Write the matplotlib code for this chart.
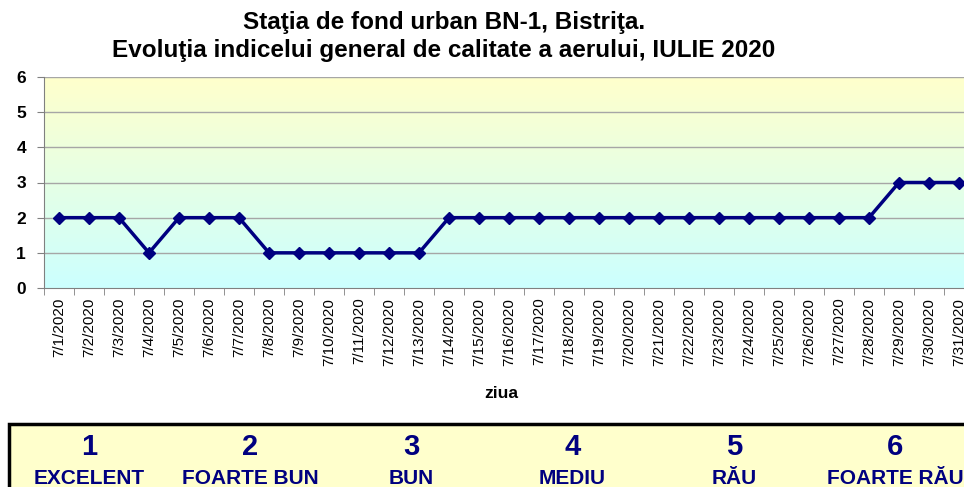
import matplotlib.pyplot as plt
import numpy as np
from matplotlib.colors import LinearSegmentedColormap
from matplotlib.patches import Rectangle

plt.rcParams["font.family"] = ["Liberation Sans", "DejaVu Sans"]

W, H = 964, 487

days = [f"7/{d}/2020" for d in range(1, 32)]
index_values = [2, 2, 2, 1, 2, 2, 2, 1, 1, 1, 1, 1, 1,
                2, 2, 2, 2, 2, 2, 2, 2, 2, 2, 2, 2, 2, 2, 2,
                3, 3, 3]
scale_numbers = ["1", "2", "3", "4", "5", "6"]
scale_labels = ["EXCELENT", "FOARTE BUN", "BUN", "MEDIU", "RĂU", "FOARTE RĂU"]

NAVY = "#000080"

fig = plt.figure(figsize=(W / 100, H / 100), dpi=100)

# plot area (in pixels, converted to figure fractions); right side runs past the image
left, top, bottom, right = 44, 77, 288, 974
ax = fig.add_axes([left / W, 1 - bottom / H, (right - left) / W, (bottom - top) / H])

x = np.arange(len(days))
ax.set_xlim(-0.5, len(days) - 0.5)
ax.set_ylim(0, 6)

grad = LinearSegmentedColormap.from_list("bg", ["#CCFFFF", "#FFFFCC"])
ax.imshow(np.linspace(0, 1, 256).reshape(-1, 1), cmap=grad, aspect="auto",
          extent=(-0.5, len(days) - 0.5, 0, 6), origin="lower", zorder=0)

for yv in range(1, 7):
    ax.axhline(yv, color="#A6A6A6", lw=1.0, zorder=1)

ax.plot(x, index_values, color=NAVY, lw=2.5, marker="D", markersize=6,
        zorder=3, clip_on=False)

ax.set_xticks(x)
ax.set_xticklabels(days, rotation=90, fontsize=11)
ax.tick_params(axis="x", length=0, pad=7)
ax.set_xticks(np.arange(-0.5, len(days)), minor=True)
ax.tick_params(axis="x", which="minor", length=5, color="#808080")
ax.set_yticks(range(0, 7))
ax.set_yticklabels([str(v) for v in range(0, 7)], fontsize=12.5, fontweight="bold")
ax.tick_params(axis="y", length=5, color="#808080", pad=8)

for side in ["top", "right"]:
    ax.spines[side].set_visible(False)
for side in ["left", "bottom"]:
    ax.spines[side].set_color("#808080")

fig.text(444 / W, 1 - 22 / H, "Staţia de fond urban BN-1, Bistriţa.",
         ha="center", va="center", fontsize=17.5, fontweight="bold")
fig.text(444 / W, 1 - 50 / H, "Evoluţia indicelui general de calitate a aerului, IULIE 2020",
         ha="center", va="center", fontsize=17.5, fontweight="bold")
fig.text(501 / W, 1 - 393 / H, "ziua", ha="center", va="center",
         fontsize=12.5, fontweight="bold")

# legend box with the index scale
fig.patches.append(Rectangle((9 / W, -0.1), 1.1, 0.1 + (H - 424) / H,
                             transform=fig.transFigure, facecolor="#FFFFCC",
                             edgecolor="black", lw=2.5, zorder=5))
for i, (num, lab) in enumerate(zip(scale_numbers, scale_labels)):
    cx = (89 + i * 161.2) / W
    fig.text(cx, 1 - 447 / H, num, ha="center", va="center", fontsize=21,
             fontweight="bold", color=NAVY, zorder=6)
    fig.text(cx, 1 - 478 / H, lab, ha="center", va="center", fontsize=15,
             fontweight="bold", color=NAVY, zorder=6)

fig.savefig("out.png", dpi=100)
